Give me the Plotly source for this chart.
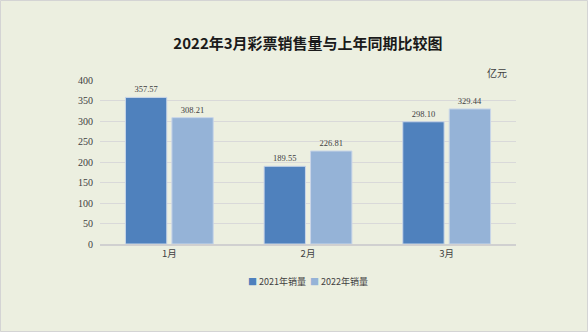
import plotly.graph_objects as go

# Monthly lottery sales (100 million yuan)
months = ["1月", "2月", "3月"]
sales_2021 = [357.57, 189.55, 298.10]
sales_2022 = [308.21, 226.81, 329.44]
series_names = ["2021年销量", "2022年销量"]
y_ticks = [0, 50, 100, 150, 200, 250, 300, 350, 400]

W, H = 588, 332
ML, MR, MT, MB = 100, 72, 80, 88
pw, ph = W - ML - MR, H - MT - MB

bg = "#ECEFE0"
dark_blue = "#4F81BD"
light_blue = "#95B3D7"
colors = [dark_blue, light_blue]
num_font = "Liberation Serif"
cjk_font = "Noto Sans CJK SC"

fig = go.Figure()
for name, vals, col in zip(series_names, [sales_2021, sales_2022], colors):
    fig.add_trace(go.Bar(
        x=months, y=vals, name=name,
        marker=dict(color=col, line=dict(color="#C9D6E8", width=1)),
        text=[f"{v:.2f}" for v in vals],
        textposition="outside",
        textfont=dict(family=num_font, size=8.5, color="#404040"),
        cliponaxis=False,
    ))

fig.update_layout(
    width=W, height=H,
    margin=dict(l=ML, r=MR, t=MT, b=MB),
    paper_bgcolor=bg, plot_bgcolor=bg,
    barmode="group", bargap=0.33, bargroupgap=0.11,
    title=dict(text="<b>2022年3月彩票销售量与上年同期比较图</b>",
               x=(ML + pw / 2) / W, xanchor="center",
               y=1 - 44 / H, yanchor="middle",
               font=dict(family=cjk_font, size=15, color="#1a1a1a")),
    showlegend=False,
    xaxis=dict(showgrid=False, showline=True, linecolor="#D0D0D0", linewidth=2,
               ticks="", tickfont=dict(family=cjk_font, size=9.5, color="#404040")),
    yaxis=dict(range=[0, 400], tickvals=y_ticks, showgrid=True,
               gridcolor="#D9D9D9", gridwidth=1, zeroline=False,
               ticks="", ticklabelstandoff=6,
               tickfont=dict(family=num_font, size=10, color="#404040")),
    font=dict(family=cjk_font),
)

# Compact legend as a text row: colored square + series name
legend_text = "  ".join(
    f'<span style="color:{c};font-size:9px">■</span> {n}'
    for n, c in zip(series_names, colors)
)
fig.add_annotation(text=legend_text, xref="paper", yref="paper",
                   x=0.5, y=-(281 - (MT + ph)) / ph,
                   showarrow=False, xanchor="center", yanchor="middle",
                   font=dict(family=cjk_font, size=9, color="#404040"))

fig.add_annotation(text="亿元", xref="paper", yref="paper",
                   x=(497 - ML) / pw, y=(MT + ph - 72) / ph,
                   showarrow=False, xanchor="center", yanchor="middle",
                   font=dict(family=cjk_font, size=10, color="#404040"))

# Thin frame around the whole figure
fig.add_shape(type="rect", xref="paper", yref="paper",
              x0=-ML / pw + 0.5 / pw, x1=1 + MR / pw - 0.5 / pw,
              y0=-MB / ph + 0.5 / ph, y1=1 + MT / ph - 0.5 / ph,
              line=dict(color="#D4D4D4", width=1), layer="below")

fig.write_html("out.html")
